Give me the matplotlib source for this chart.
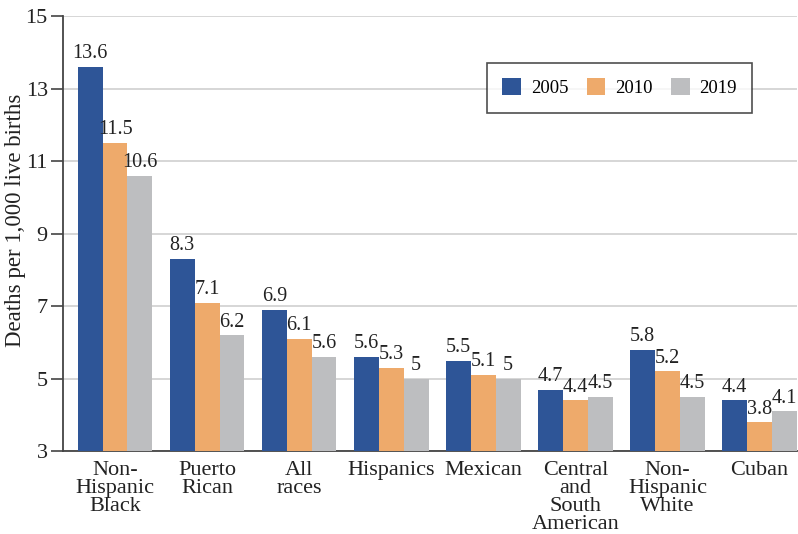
import numpy as np
import matplotlib
matplotlib.use("Agg")
import matplotlib.pyplot as plt

plt.rcParams['font.family'] = ['Liberation Serif', 'DejaVu Serif']

categories = ["Non-\nHispanic\nBlack", "Puerto\nRican", "All\nraces", "Hispanics",
              "Mexican", "Central\nand\nSouth\nAmerican", "Non-\nHispanic\nWhite", "Cuban"]
years = ["2005", "2010", "2019"]
v2005 = [13.6, 8.3, 6.9, 5.6, 5.5, 4.7, 5.8, 4.4]
v2010 = [11.5, 7.1, 6.1, 5.3, 5.1, 4.4, 5.2, 3.8]
v2019 = [10.6, 6.2, 5.6, 5.0, 5.0, 4.5, 4.5, 4.1]
colors = ["#2e5597", "#eeaa6b", "#bdbec0"]

fig = plt.figure(figsize=(7.98, 5.34), dpi=100)
ax = fig.add_axes([0.079, 0.155, 0.920, 0.815])

x = np.arange(len(categories))
w = 0.27
for i, (vals, yr) in enumerate(zip([v2005, v2010, v2019], years)):
    bars = ax.bar(x + (i - 1) * w, vals, w, bottom=0, color=colors[i], label=yr, zorder=3)
    for b, v in zip(bars, vals):
        ax.text(b.get_x() + b.get_width() / 2, v + 0.1, "%g" % v,
                ha="center", va="bottom", fontsize=14.5, color="#222222", zorder=4)

ax.set_ylim(3, 15)
ax.set_xlim(-0.565, 7.41)
ax.set_yticks([3, 5, 7, 9, 11, 13, 15])
ax.set_xticks(x)
ax.set_xticklabels(categories, fontsize=16, linespacing=0.92, color="#222222")
ax.tick_params(axis="x", length=0, pad=7)
ax.tick_params(axis="y", length=9, width=1.2, color="#444444", labelsize=16,
               labelcolor="#222222", pad=2)
ax.set_ylabel("Deaths per 1,000 live births", fontsize=16.5, color="#222222")
ax.yaxis.set_label_coords(-0.051, 0.53)

ax.grid(axis="y", color="#d3d3d3", linewidth=1.3, zorder=0)
for s in ["top", "right"]:
    ax.spines[s].set_visible(False)
for s in ["left", "bottom"]:
    ax.spines[s].set_color("#444444")
    ax.spines[s].set_linewidth(1.3)

leg = ax.legend(loc="upper right", bbox_to_anchor=(0.939, 0.892), borderaxespad=0,
                ncol=3, fontsize=13.5, frameon=True, fancybox=False, edgecolor="#222222",
                handlelength=1.0, handleheight=1.0, columnspacing=0.96, borderpad=0.82,
                handletextpad=0.53)
leg.get_frame().set_linewidth(1.2)

fig.savefig("out.png", dpi=100)
